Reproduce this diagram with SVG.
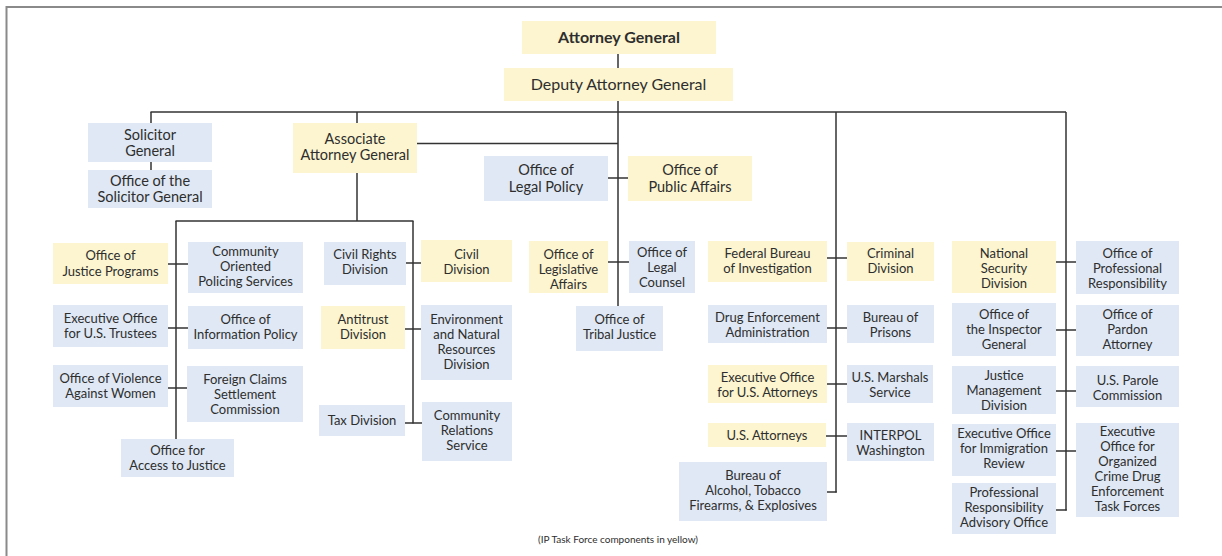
<svg xmlns="http://www.w3.org/2000/svg" width="1222" height="556" viewBox="0 0 1222 556">
<style>
.y{fill:#fcf5cf}
.b{fill:#dfe8f4}
text{font-family:Lato,"Noto Sans","Liberation Sans",sans-serif;fill:#2e2e2e;text-anchor:middle;font-size:13px}
.big{font-size:16px}
.md{font-size:14.5px}
.bold{font-weight:bold}
.cap{font-size:10px}
#connectors line{stroke:#333;stroke-width:1.5}
</style>
<rect width="1222" height="556" fill="#fff"/>
<path d="M6.5 556 V7 H1222" fill="none" stroke="#8a8a8a" stroke-width="2"/>
<g id="connectors">
<line x1="618" y1="54" x2="618" y2="68"/>
<line x1="618" y1="101" x2="618" y2="306"/>
<line x1="150.5" y1="112" x2="1066" y2="112"/>
<line x1="151" y1="112" x2="151" y2="170"/>
<line x1="357" y1="112" x2="357" y2="221"/>
<line x1="417" y1="143.5" x2="618" y2="143.5"/>
<line x1="175.5" y1="221" x2="413.5" y2="221"/>
<line x1="176" y1="221" x2="176" y2="439"/>
<line x1="413" y1="221" x2="413" y2="423.5"/>
<line x1="168" y1="264" x2="188" y2="264"/>
<line x1="168" y1="328" x2="188" y2="328"/>
<line x1="168" y1="388" x2="187" y2="388"/>
<line x1="406" y1="263" x2="421" y2="263"/>
<line x1="405" y1="329" x2="421" y2="329"/>
<line x1="405" y1="423" x2="422" y2="423"/>
<line x1="608" y1="178" x2="628" y2="178"/>
<line x1="608" y1="262" x2="629" y2="262"/>
<line x1="836" y1="112" x2="836" y2="492.5"/>
<line x1="827" y1="258" x2="847" y2="258"/>
<line x1="827" y1="328" x2="847" y2="328"/>
<line x1="827" y1="384" x2="847" y2="384"/>
<line x1="826" y1="436" x2="847" y2="436"/>
<line x1="827" y1="492" x2="836.75" y2="492"/>
<line x1="1066" y1="112" x2="1066" y2="510.5"/>
<line x1="1056" y1="262" x2="1076" y2="262"/>
<line x1="1056" y1="330" x2="1076" y2="330"/>
<line x1="1056" y1="391" x2="1076" y2="391"/>
<line x1="1056" y1="451" x2="1076" y2="451"/>
<line x1="1056" y1="510" x2="1066.75" y2="510"/>
</g>
<g id="ag"><rect class="y" x="522" y="21" width="194" height="33"/><text class="big bold" x="619" y="43">Attorney General</text></g>
<g id="dag"><rect class="y" x="504" y="68" width="229" height="33"/><text class="big" x="618.5" y="90">Deputy Attorney General</text></g>
<g id="sg"><rect class="b" x="88" y="123" width="124" height="39"/><text class="md" x="150" y="139.5">Solicitor<tspan x="150" dy="16">General</tspan></text></g>
<g id="osg"><rect class="b" x="88" y="170" width="124" height="38"/><text class="md" x="150" y="186">Office of the<tspan x="150" dy="16">Solicitor General</tspan></text></g>
<g id="aag"><rect class="y" x="293" y="123" width="124" height="50"/><text class="md" x="355" y="144">Associate<tspan x="355" dy="16">Attorney General</tspan></text></g>
<g id="olp"><rect class="b" x="484" y="156" width="124" height="45"/><text class="md" x="546" y="174.5">Office of<tspan x="546" dy="17">Legal Policy</tspan></text></g>
<g id="opa"><rect class="y" x="628" y="156" width="124" height="45"/><text class="md" x="690" y="174.5">Office of<tspan x="690" dy="17">Public Affairs</tspan></text></g>
<g id="ojp"><rect class="y" x="53" y="243" width="115" height="41"/><text x="110.5" y="260">Office of<tspan x="110.5" dy="15.5">Justice Programs</tspan></text></g>
<g id="cops"><rect class="b" x="188" y="242" width="115" height="51"/><text x="245.5" y="256">Community<tspan x="245.5" dy="15">Oriented</tspan><tspan x="245.5" dy="15">Policing Services</tspan></text></g>
<g id="eoust"><rect class="b" x="53" y="305" width="115" height="42"/><text x="110.5" y="323">Executive Office<tspan x="110.5" dy="15">for U.S. Trustees</tspan></text></g>
<g id="oip"><rect class="b" x="188" y="306" width="115" height="43"/><text x="245.5" y="324">Office of<tspan x="245.5" dy="15">Information Policy</tspan></text></g>
<g id="ovw"><rect class="b" x="53" y="365" width="115" height="42"/><text x="110.5" y="383">Office of Violence<tspan x="110.5" dy="15">Against Women</tspan></text></g>
<g id="fcsc"><rect class="b" x="187" y="366" width="116" height="56"/><text x="245" y="383.5">Foreign Claims<tspan x="245" dy="15">Settlement</tspan><tspan x="245" dy="15">Commission</tspan></text></g>
<g id="atj"><rect class="b" x="121" y="439" width="113" height="38"/><text x="177.5" y="454.5">Office for<tspan x="177.5" dy="15">Access to Justice</tspan></text></g>
<g id="crt"><rect class="b" x="324" y="242" width="82" height="43"/><text x="365" y="259">Civil Rights<tspan x="365" dy="15">Division</tspan></text></g>
<g id="civ"><rect class="y" x="421" y="240" width="91" height="42"/><text x="466.5" y="259">Civil<tspan x="466.5" dy="15">Division</tspan></text></g>
<g id="atr"><rect class="y" x="321" y="306" width="84" height="43"/><text x="363" y="324">Antitrust<tspan x="363" dy="15">Division</tspan></text></g>
<g id="enrd"><rect class="b" x="421" y="305" width="91" height="75"/><text x="466.5" y="324">Environment<tspan x="466.5" dy="15">and Natural</tspan><tspan x="466.5" dy="15">Resources</tspan><tspan x="466.5" dy="15">Division</tspan></text></g>
<g id="tax"><rect class="b" x="319" y="405" width="86" height="31"/><text x="362" y="425">Tax Division</text></g>
<g id="crs"><rect class="b" x="422" y="402" width="90" height="59"/><text x="467" y="420">Community<tspan x="467" dy="15">Relations</tspan><tspan x="467" dy="15">Service</tspan></text></g>
<g id="ola"><rect class="y" x="529" y="241" width="79" height="52"/><text x="568.5" y="259">Office of<tspan x="568.5" dy="15">Legislative</tspan><tspan x="568.5" dy="15">Affairs</tspan></text></g>
<g id="olc"><rect class="b" x="629" y="241" width="66" height="52"/><text x="662" y="257">Office of<tspan x="662" dy="15">Legal</tspan><tspan x="662" dy="15">Counsel</tspan></text></g>
<g id="otj"><rect class="b" x="576" y="306" width="87" height="45"/><text x="619.5" y="324">Office of<tspan x="619.5" dy="15">Tribal Justice</tspan></text></g>
<g id="fbi"><rect class="y" x="708" y="241" width="119" height="41"/><text x="767.5" y="258">Federal Bureau<tspan x="767.5" dy="15">of Investigation</tspan></text></g>
<g id="crm"><rect class="y" x="847" y="242" width="87" height="39"/><text x="890.5" y="258">Criminal<tspan x="890.5" dy="15">Division</tspan></text></g>
<g id="dea"><rect class="b" x="708" y="305" width="119" height="38"/><text x="767.5" y="321.5">Drug Enforcement<tspan x="767.5" dy="15">Administration</tspan></text></g>
<g id="bop"><rect class="b" x="847" y="305" width="87" height="38"/><text x="890.5" y="321.5">Bureau of<tspan x="890.5" dy="15">Prisons</tspan></text></g>
<g id="eousa"><rect class="y" x="708" y="365" width="119" height="38"/><text x="767.5" y="381.5">Executive Office<tspan x="767.5" dy="15">for U.S. Attorneys</tspan></text></g>
<g id="usms"><rect class="b" x="847" y="365" width="86" height="38"/><text x="890" y="381.5">U.S. Marshals<tspan x="890" dy="15">Service</tspan></text></g>
<g id="usa"><rect class="y" x="708" y="423" width="118" height="24"/><text x="767" y="439.5">U.S. Attorneys</text></g>
<g id="interpol"><rect class="b" x="847" y="423" width="87" height="38"/><text x="890.5" y="439.5">INTERPOL<tspan x="890.5" dy="15">Washington</tspan></text></g>
<g id="atf"><rect class="b" x="679" y="462" width="148" height="59"/><text x="753" y="480">Bureau of<tspan x="753" dy="15">Alcohol, Tobacco</tspan><tspan x="753" dy="15">Firearms, &amp; Explosives</tspan></text></g>
<g id="nsd"><rect class="y" x="952" y="241" width="104" height="52"/><text x="1004" y="257.5">National<tspan x="1004" dy="15">Security</tspan><tspan x="1004" dy="15">Division</tspan></text></g>
<g id="opr"><rect class="b" x="1076" y="241" width="103" height="53"/><text x="1127.5" y="257.5">Office of<tspan x="1127.5" dy="15">Professional</tspan><tspan x="1127.5" dy="15">Responsibility</tspan></text></g>
<g id="oig"><rect class="b" x="952" y="303" width="104" height="53"/><text x="1004" y="319">Office of<tspan x="1004" dy="15">the Inspector</tspan><tspan x="1004" dy="15">General</tspan></text></g>
<g id="pardon"><rect class="b" x="1076" y="305" width="103" height="51"/><text x="1127.5" y="319">Office of<tspan x="1127.5" dy="15">Pardon</tspan><tspan x="1127.5" dy="15">Attorney</tspan></text></g>
<g id="jmd"><rect class="b" x="952" y="366" width="104" height="48"/><text x="1004" y="380">Justice<tspan x="1004" dy="15">Management</tspan><tspan x="1004" dy="15">Division</tspan></text></g>
<g id="uspc"><rect class="b" x="1076" y="366" width="103" height="41"/><text x="1127.5" y="385">U.S. Parole<tspan x="1127.5" dy="15">Commission</tspan></text></g>
<g id="eoir"><rect class="b" x="952" y="424" width="104" height="52"/><text x="1004" y="438">Executive Office<tspan x="1004" dy="15">for Immigration</tspan><tspan x="1004" dy="15">Review</tspan></text></g>
<g id="ocdetf"><rect class="b" x="1076" y="423" width="103" height="94"/><text x="1127.5" y="436">Executive<tspan x="1127.5" dy="15">Office for</tspan><tspan x="1127.5" dy="15">Organized</tspan><tspan x="1127.5" dy="15">Crime Drug</tspan><tspan x="1127.5" dy="15">Enforcement</tspan><tspan x="1127.5" dy="15">Task Forces</tspan></text></g>
<g id="prao"><rect class="b" x="952" y="483" width="104" height="51"/><text x="1004" y="497">Professional<tspan x="1004" dy="15">Responsibility</tspan><tspan x="1004" dy="15">Advisory Office</tspan></text></g>
<text class="cap" x="618" y="543">(IP Task Force components in yellow)</text>
</svg>
